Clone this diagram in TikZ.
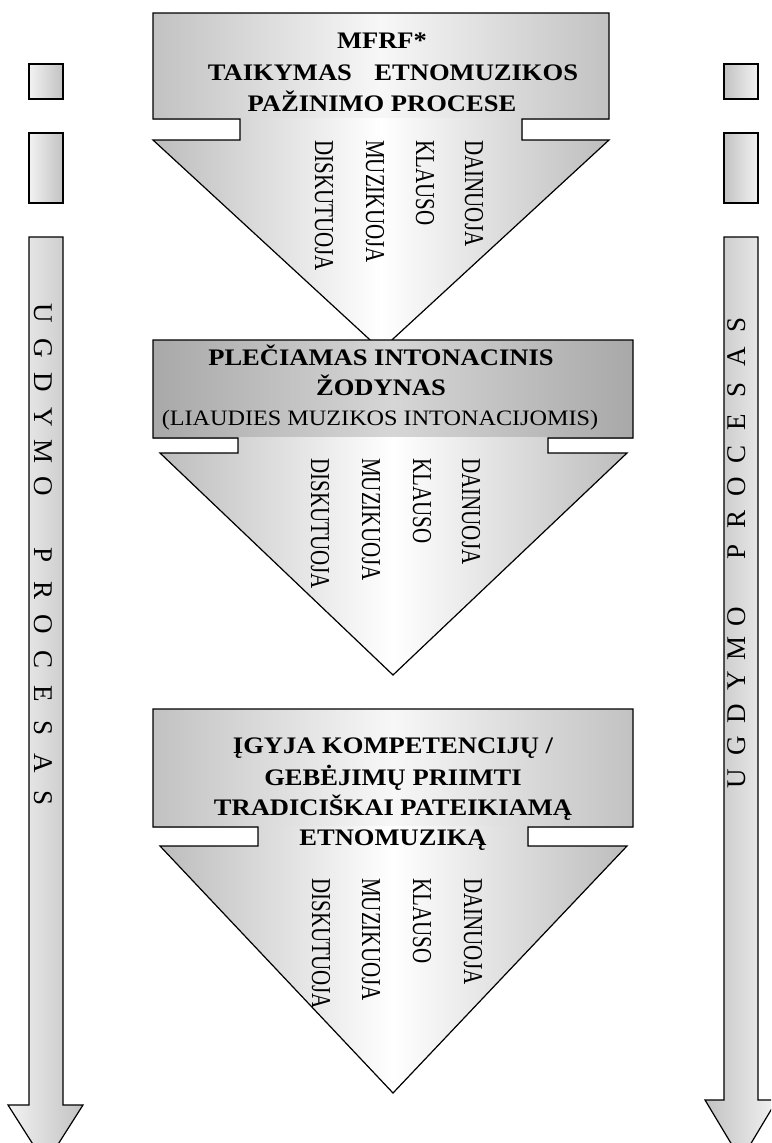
\documentclass[tikz,border=0pt]{standalone}
\usepackage{fontspec}
\setmainfont{Liberation Serif}
\newcommand\slotL[1]{\makebox[34.6pt]{#1}}
\newcommand\slotR[1]{\makebox[32.4pt]{#1}}
\newcommand\vw[1]{\scalebox{1}[1.3]{#1}}
\begin{document}
\begin{tikzpicture}[x=1pt,y=-1pt,line join=miter]
\tikzset{
  outl/.style={draw=black,line width=1.2pt},
  recA/.style={shading=axis,left color=black!24,right color=black!24,middle color=black!3},
  recB/.style={shading=axis,left color=black!34,right color=black!34,middle color=black!16},
  headfill/.style={shading=axis,left color=black!26,right color=black!26,middle color=white},
  barL/.style={shading=axis,left color=black!5,right color=black!24},
  barR/.style={shading=axis,left color=black!24,right color=black!5},
  hb/.style={font=\fontsize{23.7}{28}\selectfont\bfseries,inner sep=0pt,anchor=base,xscale=1.12},
  hr/.style={font=\fontsize{22}{28}\selectfont,inner sep=0pt,anchor=base,xscale=1.1},
  word/.style={font=\fontsize{21}{25}\selectfont,inner sep=0pt,anchor=base west,rotate=-90},
  side/.style={font=\fontsize{27}{30}\selectfont,inner sep=0pt,anchor=base}
}
\useasboundingbox (0,0) rectangle (771,1143);
\fill[white] (0,0) rectangle (771,1143);
\clip (0,0) rectangle (771,1143);

% ---------- side bars, left ----------
\draw[outl,barL] (29,64) rectangle (63,99);
\draw[outl,barL] (29,133) rectangle (63,203);
\draw[outl,barL] (29,237) -- (63,237) -- (63,1105) -- (83,1105) -- (45.5,1164) -- (8,1105) -- (29,1105) -- cycle;
\node[side,rotate=-90] (leftlabel) at (34,555.5) {\slotL U\slotL G\slotL D\slotL Y\slotL M\slotL O\slotL{}\slotL P\slotL R\slotL O\slotL C\slotL E\slotL S\slotL A\slotL S};

% ---------- side bars, right ----------
\draw[outl,barR] (724,64) rectangle (758,99);
\draw[outl,barR] (724,133) rectangle (758,203);
\draw[outl,barR] (724,237) -- (758,237) -- (758,1100) -- (777,1100) -- (741,1160) -- (705,1100) -- (724,1100) -- cycle;
\node[side,rotate=90] (rightlabel) at (745,551.5) {\slotR U\slotR G\slotR D\slotR Y\slotR M\slotR O\slotR{}\slotR P\slotR R\slotR O\slotR C\slotR E\slotR S\slotR A\slotR S};

% ---------- arrow 1 ----------
\fill[recA] (153,13) rectangle (609,119);
\fill[headfill] (240,118) -- (522,118) -- (522,140) -- (609,140) -- (381,350) -- (153,140) -- (240,140) -- cycle;
\draw[outl] (153,13) -- (609,13) -- (609,119) -- (522,119) -- (522,140) -- (609,140) -- (381,350) -- (153,140) -- (240,140) -- (240,119) -- (153,119) -- cycle;
\node[hb] (t1a) at (382,48) {MFRF*};
\node[hb] (t1b) at (393,80) {TAIKYMAS\hspace{0.85em}ETNOMUZIKOS};
\node[hb] (t1c) at (382,111) {PAŽINIMO PROCESE};
\node[word] (w1a) at (465,140) {\vw{DAINUOJA}};
\node[word] (w1b) at (416,140) {\vw{KLAUSO}};
\node[word] (w1c) at (366,140) {\vw{MUZIKUOJA}};
\node[word] (w1d) at (315,140) {\vw{DISKUTUOJA}};

% ---------- arrow 2 ----------
\fill[recB] (153,340) rectangle (633,438);
\fill[headfill] (238,437) -- (548,437) -- (548,453) -- (627,453) -- (393,675) -- (160,453) -- (238,453) -- cycle;
\draw[outl] (153,340) -- (633,340) -- (633,438) -- (548,438) -- (548,453) -- (627,453) -- (393,675) -- (160,453) -- (238,453) -- (238,438) -- (153,438) -- cycle;
\node[hb] (t2a) at (381,365) {PLEČIAMAS INTONACINIS};
\node[hb] (t2b) at (381,395) {ŽODYNAS};
\node[hr] (t2c) at (380,425) {(LIAUDIES MUZIKOS INTONACIJOMIS)};
\node[word] (w2a) at (462,458) {\vw{DAINUOJA}};
\node[word] (w2b) at (413,458) {\vw{KLAUSO}};
\node[word] (w2c) at (362,458) {\vw{MUZIKUOJA}};
\node[word] (w2d) at (311,458) {\vw{DISKUTUOJA}};

% ---------- arrow 3 ----------
\fill[recA] (153,709) rectangle (633,827);
\fill[headfill] (258,826) -- (528,826) -- (528,846) -- (627,846) -- (393,1093) -- (160,846) -- (258,846) -- cycle;
\draw[outl] (153,709) -- (633,709) -- (633,827) -- (528,827) -- (528,846) -- (627,846) -- (393,1093) -- (160,846) -- (258,846) -- (258,827) -- (153,827) -- cycle;
\node[hb] (t3a) at (393,753) {ĮGYJA KOMPETENCIJŲ /};
\node[hb] (t3b) at (393,785) {GEBĖJIMŲ PRIIMTI};
\node[hb] (t3c) at (393,815) {TRADICIŠKAI PATEIKIAMĄ};
\node[hb] (t3d) at (393,845) {ETNOMUZIKĄ};
\node[word] (w3a) at (464,878) {\vw{DAINUOJA}};
\node[word] (w3b) at (413,878) {\vw{KLAUSO}};
\node[word] (w3c) at (362,878) {\vw{MUZIKUOJA}};
\node[word] (w3d) at (312,878) {\vw{DISKUTUOJA}};
\end{tikzpicture}
\end{document}
